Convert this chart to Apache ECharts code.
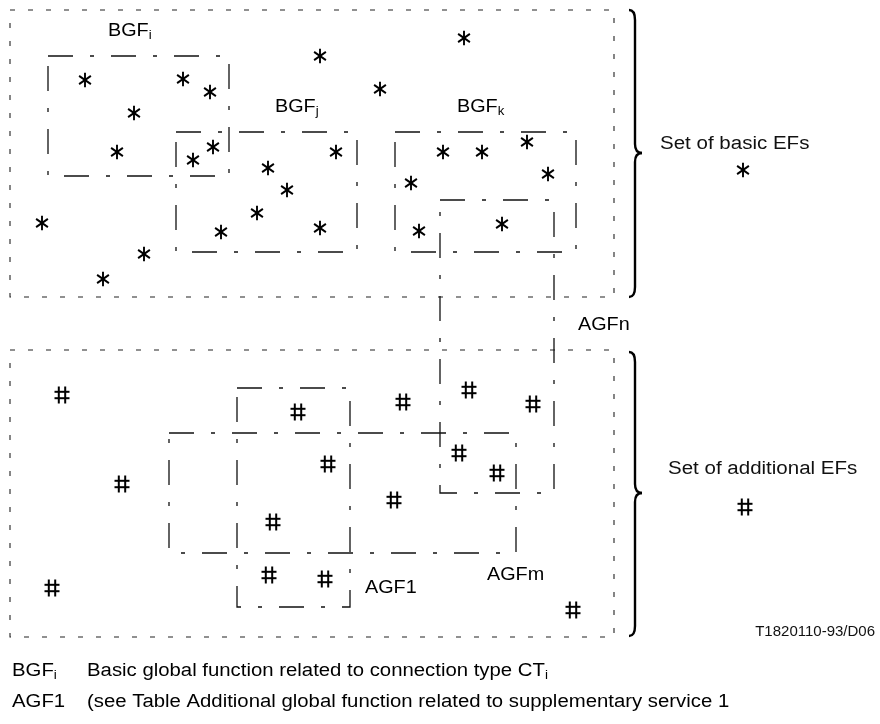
<!DOCTYPE html>
<html><head><meta charset="utf-8">
<script src="https://cdn.jsdelivr.net/npm/echarts@6/dist/echarts.min.js"></script>
<style>html,body{margin:0;padding:0;background:#fff}#c{width:880px;height:724px}</style>
</head><body><div id="c"></div>
<script>
// Diagram data (drawing units = pixels of the original figure)
const outerBoxes = [[10,10,614,297],[10,350,614,637]];
const groupBoxes = [[48,56,229,176],[176,132,357,252],[395,132,576,252],[440,200,554,493],[237,388,350,607],[169,433,516,553]];
const basicEFs = [[85,80],[183,79],[210,92],[134,113],[117,152],[193,160],[213,147],[320,56],[464,38],[380,89],[268,168],[287,190],[257,213],[221,232],[320,228],[336,152],[42,223],[144,254],[103,279],[443,152],[482,152],[527,142],[548,174],[411,183],[419,231],[502,224]];
const additionalEFs = [[62,395],[122,484],[298,412],[328,464],[273,522],[269,575],[325,579],[52,588],[403,402],[469,390],[533,404],[459,453],[497,473],[394,500],[573,610]];
const keyBasic = [[743,170]];
const keyAdditional = [[745,507]];
const braces = [[10,153,297],[352,493,636]];
const groupLabels = [['BGF','i',108,31],['BGF','j',275,107],['BGF','k',457,107],['AGFn','',578,325],['AGF1','',365,588],['AGFm','',487,575]];
const setLabels = [['Set of basic EFs',660,144],['Set of additional EFs',668,469]];
const figureId = ['T1820110-93/D06',875,632];
const notes = [['BGF','i','Basic global function related to connection type CT','i',12,671],['AGF1','','(see Table Additional global function related to supplementary service 1','',12,702]];

const FONT = '"Liberation Sans", Arial, Helvetica, sans-serif';
const INK = '#111';

function boxRender(dash, width, color){
  return function(params, api){
    const p1 = api.coord([api.value(0), api.value(1)]);
    const p2 = api.coord([api.value(2), api.value(3)]);
    return {type:'rect', shape:{x:p1[0], y:p1[1], width:p2[0]-p1[0], height:p2[1]-p1[1]},
      style:{fill:'none', stroke:color, lineWidth:width, lineDash:dash}};
  };
}
function starRender(params, api){
  const c = api.coord([api.value(0), api.value(1)]);
  const r = 7.2, children = [];
  [90, 35, 145].forEach(function(a){
    const dx = r*Math.cos(a*Math.PI/180), dy = r*Math.sin(a*Math.PI/180);
    children.push({type:'line', shape:{x1:c[0]-dx, y1:c[1]-dy, x2:c[0]+dx, y2:c[1]+dy}, style:{stroke:'#000', lineWidth:1.9}});
  });
  return {type:'group', children:children};
}
function hashRender(params, api){
  const c = api.coord([api.value(0), api.value(1)]);
  const children = [];
  [-3.2, 3.2].forEach(function(o){
    children.push({type:'line', shape:{x1:c[0]+o, y1:c[1]-8.5, x2:c[0]+o, y2:c[1]+8.5}, style:{stroke:'#000', lineWidth:2}});
    children.push({type:'line', shape:{x1:c[0]-7.5, y1:c[1]+o, x2:c[0]+7.5, y2:c[1]+o}, style:{stroke:'#000', lineWidth:2}});
  });
  return {type:'group', children:children};
}
function braceRender(params, api){
  const t = api.coord([629, api.value(0)]), m = api.coord([629, api.value(1)]), b = api.coord([629, api.value(2)]);
  const x0 = t[0], x1 = x0+6, x2 = x0+13;
  const st = {stroke:'#000', lineWidth:2.4, fill:'none'};
  return {type:'group', children:[
    {type:'bezierCurve', shape:{x1:x0, y1:t[1], cpx1:x1, cpy1:t[1], x2:x1, y2:t[1]+10}, style:st},
    {type:'line', shape:{x1:x1, y1:t[1]+10, x2:x1, y2:m[1]-9}, style:st},
    {type:'bezierCurve', shape:{x1:x1, y1:m[1]-9, cpx1:x1, cpy1:m[1], x2:x2, y2:m[1]}, style:st},
    {type:'bezierCurve', shape:{x1:x2, y1:m[1], cpx1:x1, cpy1:m[1], x2:x1, y2:m[1]+9}, style:st},
    {type:'line', shape:{x1:x1, y1:m[1]+9, x2:x1, y2:b[1]-10}, style:st},
    {type:'bezierCurve', shape:{x1:x1, y1:b[1]-10, cpx1:x1, cpy1:b[1], x2:x0, y2:b[1]}, style:st}
  ]};
}
function richStyles(size){
  return {m:{fontSize:size, fontFamily:FONT, color:INK}, s:{fontSize:Math.round(size*0.68), fontFamily:FONT, color:INK, padding:[9,0,0,0]}};
}
function groupLabelRender(params, api){
  const d = groupLabels[params.dataIndex];
  const c = api.coord([d[2], d[3]]);
  const txt = '{m|'+d[0]+'}' + (d[1] ? '{s|'+d[1]+'}' : '');
  return {type:'text', x:c[0], y:c[1], scaleX:1.1, style:{text:txt, rich:richStyles(18), align:'left', verticalAlign:'middle'}};
}
function setLabelRender(params, api){
  const d = setLabels[params.dataIndex];
  const c = api.coord([d[1], d[2]]);
  return {type:'text', x:c[0], y:c[1], scaleX:1.14, style:{text:d[0], font:'18px '+FONT, fill:INK, align:'left', verticalAlign:'middle'}};
}
function idRender(params, api){
  const c = api.coord([figureId[1], figureId[2]]);
  return {type:'text', x:c[0], y:c[1], style:{text:figureId[0], font:'15px '+FONT, fill:INK, align:'right', verticalAlign:'middle'}};
}
function noteRender(params, api){
  const d = notes[params.dataIndex];
  const c = api.coord([d[4], d[5]]);
  const c2 = api.coord([87, d[5]]);
  const t1 = '{m|'+d[0]+'}' + (d[1] ? '{s|'+d[1]+'}' : '');
  const t2 = '{m|'+d[2]+'}' + (d[3] ? '{s|'+d[3]+'}' : '');
  return {type:'group', children:[
    {type:'text', x:c[0], y:c[1], scaleX:1.13, style:{text:t1, rich:richStyles(18), align:'left', verticalAlign:'middle'}},
    {type:'text', x:c2[0], y:c2[1], scaleX:1.13, style:{text:t2, rich:richStyles(18), align:'left', verticalAlign:'middle'}}
  ]};
}

const chart = echarts.init(document.getElementById('c'), null, {renderer:'canvas'});
chart.setOption({
  animation:false,
  backgroundColor:'#fff',
  grid:{left:0, right:0, top:0, bottom:0},
  xAxis:{type:'value', min:0, max:880, show:false},
  yAxis:{type:'value', min:0, max:724, inverse:true, show:false},
  series:[
    {type:'custom', name:'outer', data:outerBoxes, encode:{x:[0,2], y:[1,3]}, renderItem:boxRender([5,13],1.1,'#222'), clip:false},
    {type:'custom', name:'groups', data:groupBoxes, encode:{x:[0,2], y:[1,3]}, renderItem:boxRender([25,17,4,17],1.3,'#111'), clip:false},
    {type:'custom', name:'Set of basic EFs', data:basicEFs.concat(keyBasic), encode:{x:0, y:1}, renderItem:starRender, clip:false},
    {type:'custom', name:'Set of additional EFs', data:additionalEFs.concat(keyAdditional), encode:{x:0, y:1}, renderItem:hashRender, clip:false},
    {type:'custom', name:'braces', data:braces, encode:{y:[0,1,2]}, renderItem:braceRender, clip:false},
    {type:'custom', name:'groupLabels', data:groupLabels.map(function(d){return [d[2], d[3]];}), renderItem:groupLabelRender, clip:false},
    {type:'custom', name:'setLabels', data:setLabels.map(function(d){return [d[1], d[2]];}), renderItem:setLabelRender, clip:false},
    {type:'custom', name:'id', data:[[figureId[1], figureId[2]]], renderItem:idRender, clip:false},
    {type:'custom', name:'notes', data:notes.map(function(d){return [d[4], d[5]];}), renderItem:noteRender, clip:false}
  ]
});
</script></body></html>
